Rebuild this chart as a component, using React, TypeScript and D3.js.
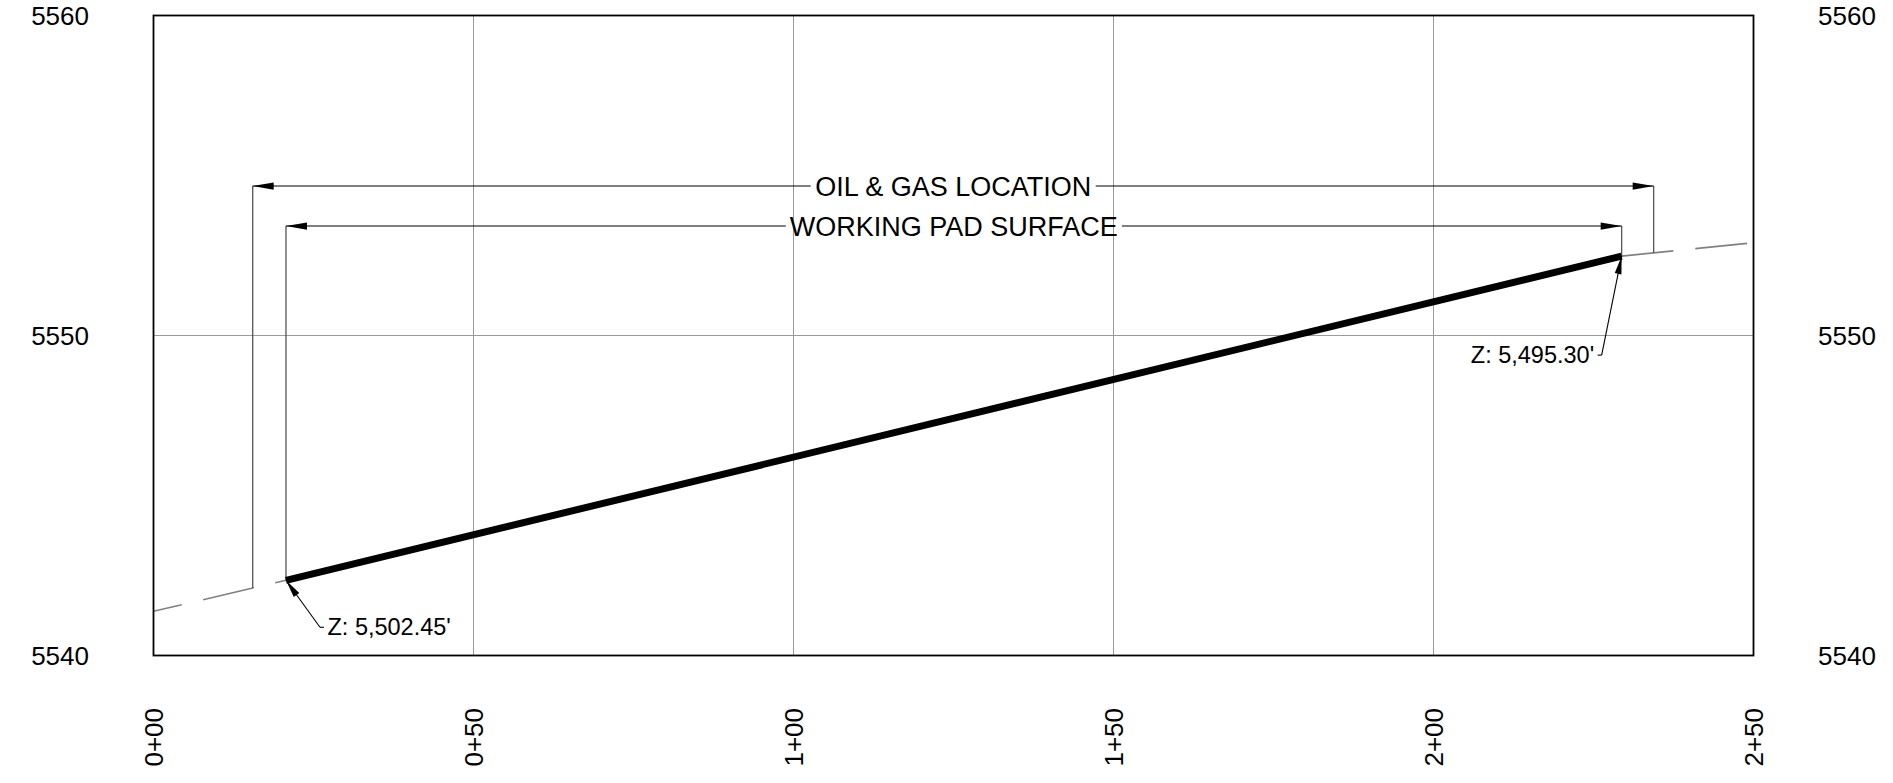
import React from "react";
import { scaleLinear, line as d3_line } from "d3";

const xTicks = [0, 50, 100, 150, 200, 250];
const xTickLabels = ["0+00", "0+50", "1+00", "1+50", "2+00", "2+50"];
const yTicks = [5540, 5550, 5560];
const yTickLabels = ["5540", "5550", "5560"];

const padStations = [20.7, 229.4];
const padElevations = [5542.35, 5552.48];

const groundStations = [0, 20.7, 229.4, 250];
const groundElevations = [5541.38, 5542.35, 5552.48, 5552.9];

const oilGasStations = [15.5, 234.4];
const oilGasElevation = 5554.67;
const padDimElevation = 5553.42;

const dimLabels = ["OIL & GAS LOCATION", "WORKING PAD SURFACE"];
const zLabels = ["Z: 5,502.45'", "Z: 5,495.30'"];

const FONT = "'Liberation Sans', Arial, sans-serif";

const measure = (text: string, size: number) => {
    const ctx = document.createElement("canvas").getContext("2d");
    if (!ctx) return text.length * size * 0.6;
    ctx.font = `${size}px 'Liberation Sans', Arial, sans-serif`;
    return ctx.measureText(text).width;
};

const arrowHead = (tx: number, ty: number, fx: number, fy: number, len: number, half: number) => {
    // tip at (tx,ty), pointing away from (fx,fy)
    const dx = tx - fx;
    const dy = ty - fy;
    const l = Math.hypot(dx, dy);
    const ux = dx / l;
    const uy = dy / l;
    const bx = tx - ux * len;
    const by = ty - uy * len;
    return `M${tx},${ty}L${bx - uy * half},${by + ux * half}L${bx + uy * half},${by - ux * half}Z`;
};

export default function App() {
    const width = 1893;
    const height = 783;

    const x = scaleLinear().domain([0, 250]).range([153.5, 1753.5]);
    const y = scaleLinear().domain([5540, 5560]).range([655.5, 15.5]);
    const groundAt = scaleLinear().domain(groundStations).range(groundElevations);

    const line = d3_line<[number, number]>()
        .x((d) => x(d[0]))
        .y((d) => y(d[1]));

    const groundLeft: [number, number][] = [
        [groundStations[0], groundElevations[0]],
        [groundStations[1], groundElevations[1]],
    ];
    const groundRight: [number, number][] = [
        [groundStations[2], groundElevations[2]],
        [groundStations[3], groundElevations[3]],
    ];
    const pad: [number, number][] = padStations.map((s, i) => [s, padElevations[i]]);

    const dims = [
        {
            x0: oilGasStations[0],
            x1: oilGasStations[1],
            elev: oilGasElevation,
            b0: groundAt(oilGasStations[0]),
            b1: groundAt(oilGasStations[1]),
            label: dimLabels[0],
        },
        {
            x0: padStations[0],
            x1: padStations[1],
            elev: padDimElevation,
            b0: padElevations[0],
            b1: padElevations[1],
            label: dimLabels[1],
        },
    ];

    // leader offsets (px) from the pad end points to the label knee
    const leaders = [
        { px: x(padStations[0]), py: y(padElevations[0]), kx: 34, ky: 47, side: 1, label: zLabels[0] },
        { px: x(padStations[1]), py: y(padElevations[1]), kx: -20, ky: 99, side: -1, label: zLabels[1] },
    ];

    return (
        <svg
            width={width}
            height={height}
            style={{ position: "absolute", left: 0, top: 0, background: "#fff" }}
            fontFamily={FONT}
        >
            {/* Grid */}
            {xTicks.slice(1, -1).map((t) => (
                <line key={`gx${t}`} x1={x(t)} x2={x(t)} y1={y(5540)} y2={y(5560)} stroke="#9a9a9a" strokeWidth={1} />
            ))}
            {yTicks.slice(1, -1).map((t) => (
                <line key={`gy${t}`} x1={x(0)} x2={x(250)} y1={y(t)} y2={y(t)} stroke="#9a9a9a" strokeWidth={1} />
            ))}

            {/* Existing ground */}
            <path d={line(groundLeft) ?? ""} fill="none" stroke="#808080" strokeWidth={1.6} strokeDasharray="52 22" strokeDashoffset={23} />
            <path d={line(groundRight) ?? ""} fill="none" stroke="#808080" strokeWidth={1.6} strokeDasharray="52 22" />

            {/* Dimensions */}
            {dims.map((d, i) => {
                const xl = x(d.x0);
                const xr = x(d.x1);
                const yy = y(d.elev);
                const w = measure(d.label, 27);
                const cx = (xl + xr) / 2;
                return (
                    <g key={`dim${i}`}>
                        <line x1={xl} x2={xl} y1={yy} y2={y(d.b0)} stroke="#555" strokeWidth={1.3} />
                        <line x1={xr} x2={xr} y1={yy} y2={y(d.b1)} stroke="#555" strokeWidth={1.3} />
                        <line x1={xl} x2={cx - w / 2 - 4} y1={yy} y2={yy} stroke="#000" strokeWidth={1.1} />
                        <line x1={cx + w / 2 + 4} x2={xr} y1={yy} y2={yy} stroke="#000" strokeWidth={1.1} />
                        <path d={arrowHead(xl, yy, xl + 10, yy, 21, 3.6)} fill="#000" />
                        <path d={arrowHead(xr, yy, xr - 10, yy, 21, 3.6)} fill="#000" />
                        <text x={cx} y={yy + 9.8} textAnchor="middle" fontSize={27} fill="#000">
                            {d.label}
                        </text>
                    </g>
                );
            })}

            {/* Pad surface */}
            <path d={line(pad) ?? ""} fill="none" stroke="#000" strokeWidth={7} strokeLinecap="butt" />

            {/* Elevation leaders */}
            {leaders.map((l, i) => {
                const kx = l.px + l.kx;
                const ky = l.py + l.ky;
                const ex = kx + l.side * 4;
                return (
                    <g key={`ld${i}`}>
                        <line x1={l.px} y1={l.py} x2={kx} y2={ky} stroke="#000" strokeWidth={1.1} />
                        <line x1={kx} y1={ky} x2={ex} y2={ky} stroke="#000" strokeWidth={1.1} />
                        <path d={arrowHead(l.px, l.py, kx, ky, 18, 3.4)} fill="#000" />
                        <text
                            x={ex + l.side * 3.5}
                            y={ky + 8}
                            textAnchor={l.side > 0 ? "start" : "end"}
                            fontSize={23.5}
                            fill="#000"
                        >
                            {l.label}
                        </text>
                    </g>
                );
            })}

            {/* Frame */}
            <rect x={x(0)} y={y(5560)} width={x(250) - x(0)} height={y(5540) - y(5560)} fill="none" stroke="#000" strokeWidth={1.8} />

            {/* Y axis labels */}
            {yTicks.map((t, i) => (
                <g key={`yl${t}`}>
                    <text x={89} y={y(t) + 9.5} textAnchor="end" fontSize={26} fill="#000">
                        {yTickLabels[i]}
                    </text>
                    <text x={1818} y={y(t) + 9.5} textAnchor="start" fontSize={26} fill="#000">
                        {yTickLabels[i]}
                    </text>
                </g>
            ))}

            {/* X axis labels */}
            {xTicks.map((t, i) => (
                <text
                    key={`xl${t}`}
                    transform={`translate(${x(t) + 9.5},708) rotate(-90)`}
                    textAnchor="end"
                    fontSize={26}
                    fill="#000"
                >
                    {xTickLabels[i]}
                </text>
            ))}
        </svg>
    );
}
